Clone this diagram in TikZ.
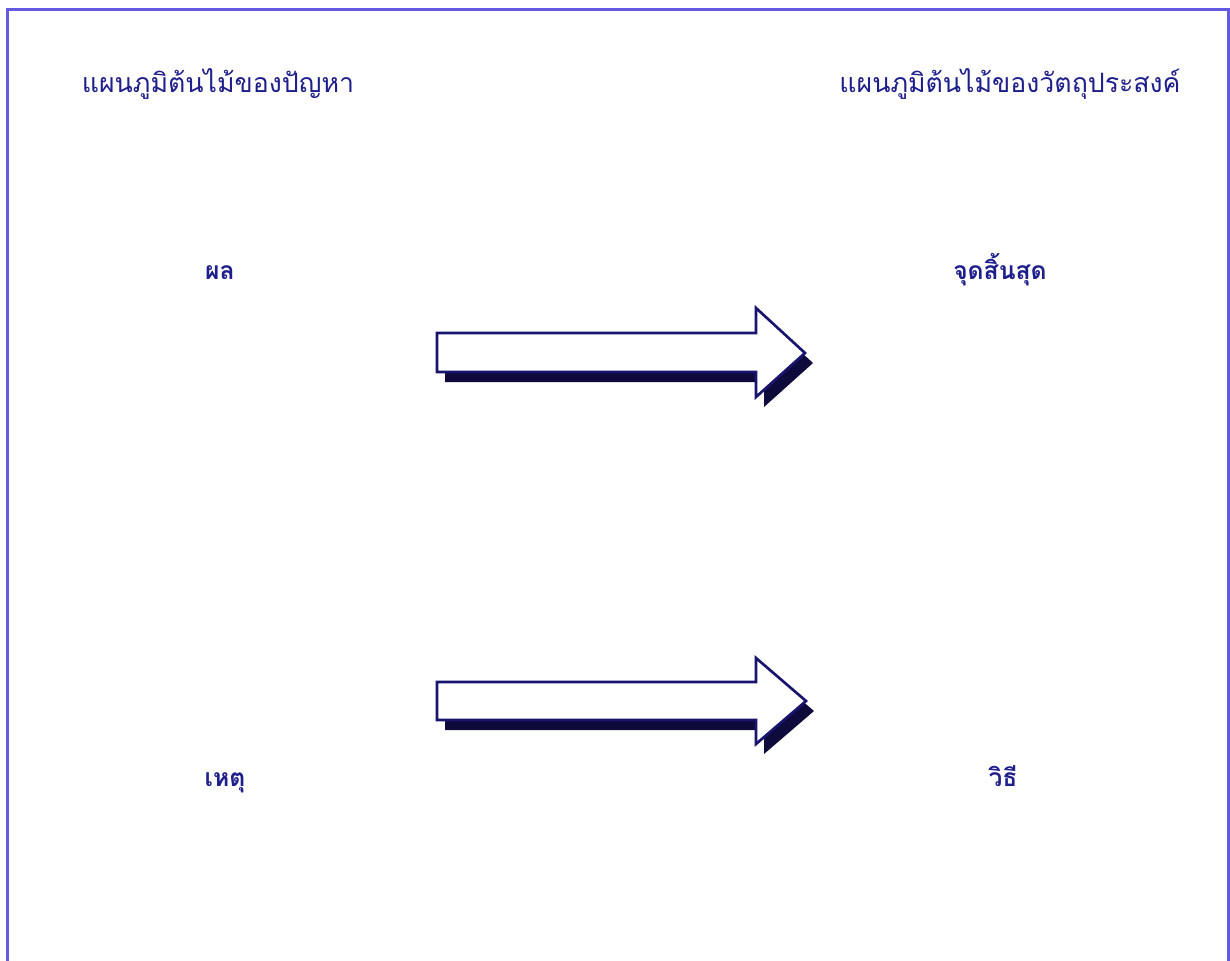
\documentclass[tikz,border=0pt]{standalone}
\usepackage{fontspec}
\newfontfamily\thaifont[Script=Thai]{Loma}
\definecolor{txtblue}{RGB}{30,30,140}
\definecolor{brdblue}{RGB}{100,90,225}
\definecolor{arrblue}{RGB}{25,20,110}
\definecolor{shdblue}{RGB}{15,10,60}
\begin{document}
\begin{tikzpicture}[x=0.75pt,y=-0.75pt,
  titletext/.style={font=\thaifont\fontsize{20}{24}\selectfont, text=txtblue, anchor=base, inner sep=0pt},
  lbltext/.style={font=\thaifont\bfseries\fontsize{18.5}{22}\selectfont, text=txtblue, anchor=base, inner sep=0pt},
  arrowshadow/.style={fill=shdblue},
  arrowbody/.style={fill=white, draw=arrblue, line width=2pt, line join=miter}]
\useasboundingbox (0,0) rectangle (1230,960);
\draw[brdblue, line width=2pt] (7.5,970) -- (7.5,9.5) -- (1228.5,9.5) -- (1228.5,970);

% titles
\node[titletext] (ptitle) at (218,92) {แผนภูมิต้นไม้ของปัญหา};
\node[titletext] (otitle) at (1010,92) {แผนภูมิต้นไม้ของวัตถุประสงค์};

% labels
\node[lbltext] (effect) at (220,279) {ผล};
\node[lbltext] (endpt) at (1000,279) {จุดสิ้นสุด};
\node[lbltext] (cause) at (225,786) {เหตุ};
\node[lbltext] (means) at (1003,786) {วิธี};

% upper arrow
\fill[arrowshadow, shift={(8,10)}] (437,333) -- (756,333) -- (756,308) -- (805,353) -- (756,397) -- (756,372) -- (437,372) -- cycle;
\draw[arrowbody] (437,333) -- (756,333) -- (756,308) -- (805,353) -- (756,397) -- (756,372) -- (437,372) -- cycle;

% lower arrow
\fill[arrowshadow, shift={(8,10)}] (437,682) -- (756,682) -- (756,658) -- (806,701) -- (756,744) -- (756,720) -- (437,720) -- cycle;
\draw[arrowbody] (437,682) -- (756,682) -- (756,658) -- (806,701) -- (756,744) -- (756,720) -- (437,720) -- cycle;
\end{tikzpicture}
\end{document}
